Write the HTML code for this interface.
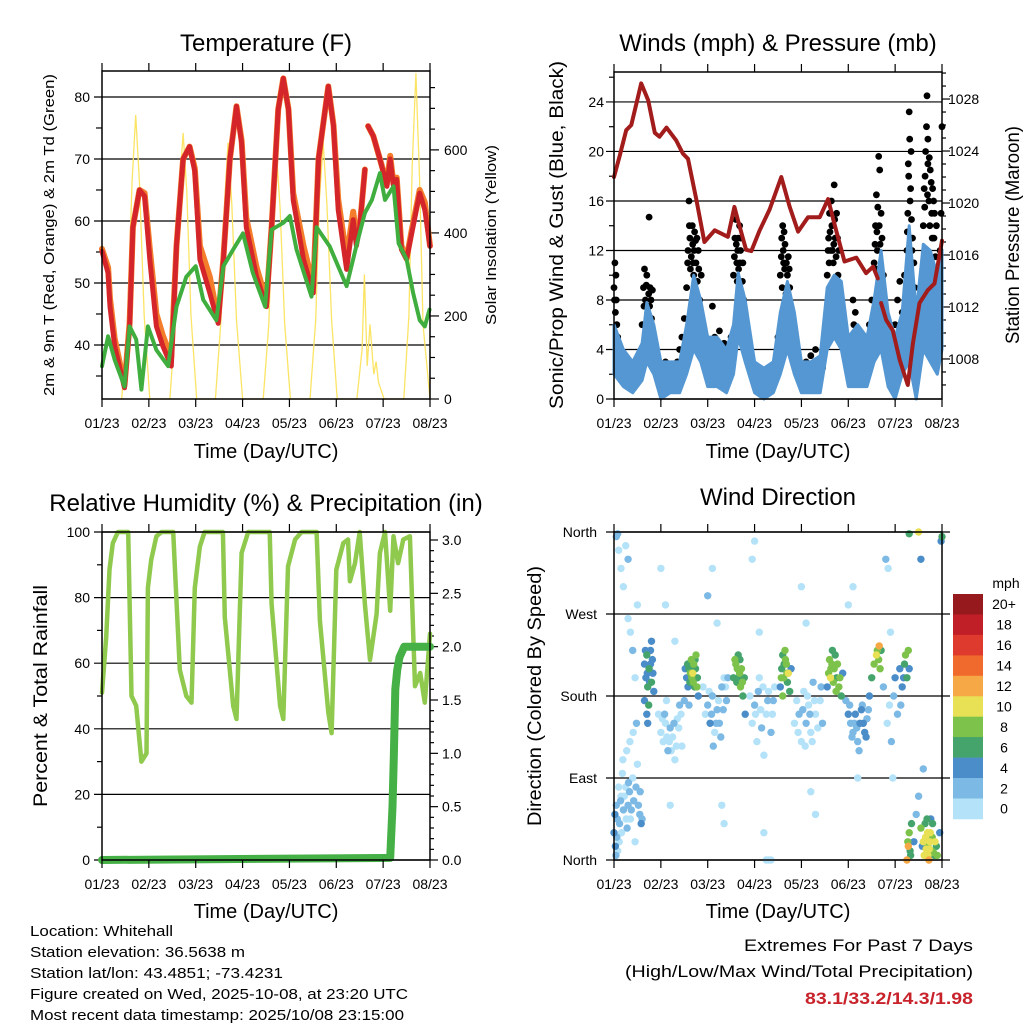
<!DOCTYPE html>
<html><head><meta charset="utf-8"><style>
html,body{margin:0;padding:0;background:#fff;}
svg{display:block;font-family:"Liberation Sans",sans-serif;}
</style></head><body>
<svg id="c" width="1024" height="1024" viewBox="0 0 1024 1024" xmlns="http://www.w3.org/2000/svg">
<rect width="1024" height="1024" fill="#fff"/>
<g id="g-temp"></g>
<g id="g-wind"></g>
<g id="g-rh"></g>
<g id="g-dir"></g>
<text x="266" y="51" font-size="24" text-anchor="middle">Temperature (F)</text>
<text x="778" y="51" font-size="24" text-anchor="middle">Winds (mph) &amp; Pressure (mb)</text>
<text x="266" y="511" font-size="24" text-anchor="middle">Relative Humidity (%) &amp; Precipitation (in)</text>
<text x="778" y="505" font-size="24" text-anchor="middle">Wind Direction</text>
<text x="266" y="458" font-size="20" text-anchor="middle">Time (Day/UTC)</text>
<text x="778" y="458" font-size="20" text-anchor="middle">Time (Day/UTC)</text>
<text x="266" y="918" font-size="20" text-anchor="middle">Time (Day/UTC)</text>
<text x="778" y="918" font-size="20" text-anchor="middle">Time (Day/UTC)</text>
<text transform="translate(54,235) rotate(-90)" font-size="15" text-anchor="middle" textLength="322" lengthAdjust="spacingAndGlyphs">2m &amp; 9m T (Red, Orange) &amp; 2m Td (Green)</text>
<text transform="translate(496,235) rotate(-90)" font-size="15" text-anchor="middle" textLength="180" lengthAdjust="spacingAndGlyphs">Solar Insolation (Yellow)</text>
<text transform="translate(563,235) rotate(-90)" font-size="19" text-anchor="middle" textLength="348" lengthAdjust="spacingAndGlyphs">Sonic/Prop Wind &amp; Gust (Blue, Black)</text>
<text transform="translate(1019,235) rotate(-90)" font-size="19" text-anchor="middle" textLength="218" lengthAdjust="spacingAndGlyphs">Station Pressure (Maroon)</text>
<text transform="translate(47,696) rotate(-90)" font-size="19" text-anchor="middle" textLength="222" lengthAdjust="spacingAndGlyphs">Percent &amp; Total Rainfall</text>
<text transform="translate(541,696) rotate(-90)" font-size="19" text-anchor="middle" textLength="260" lengthAdjust="spacingAndGlyphs">Direction (Colored By Speed)</text>
<g font-size="15">
<text x="30" y="936" textLength="143" lengthAdjust="spacingAndGlyphs">Location: Whitehall</text>
<text x="30" y="957" textLength="215" lengthAdjust="spacingAndGlyphs">Station elevation: 36.5638 m</text>
<text x="30" y="978" textLength="253" lengthAdjust="spacingAndGlyphs">Station lat/lon: 43.4851; -73.4231</text>
<text x="30" y="999" textLength="378" lengthAdjust="spacingAndGlyphs">Figure created on Wed, 2025-10-08, at 23:20 UTC</text>
<text x="30" y="1020" textLength="374" lengthAdjust="spacingAndGlyphs">Most recent data timestamp: 2025/10/08 23:15:00</text>
</g>
<g font-size="17" text-anchor="end">
<text x="973" y="951" textLength="229" lengthAdjust="spacingAndGlyphs">Extremes For Past 7 Days</text>
<text x="973" y="977" textLength="348" lengthAdjust="spacingAndGlyphs">(High/Low/Max Wind/Total Precipitation)</text>
<text x="973" y="1004" font-weight="bold" fill="#c8222b" textLength="168" lengthAdjust="spacingAndGlyphs">83.1/33.2/14.3/1.98</text>
</g>
</svg>
<script>
// ---------- data ----------
const xTickLabels = ["01/23","02/23","03/23","04/23","05/23","06/23","07/23","08/23"];
const tempTicks = [40,50,60,70,80];
const solarTicks = [0,200,400,600];
const windTicks = [0,4,8,12,16,20,24];
const pressTicks = [1008,1012,1016,1020,1024,1028];
const rhTicks = [0,20,40,60,80,100];
const precipTicks = ["0.0","0.5","1.0","1.5","2.0","2.5","3.0"];
const dirTickLabels = ["North","East","South","West","North"];
const speedBins = ["0","2","4","6","8","10","12","14","16","18","20+"];
const speedColors = ["#b4e2f8","#7cb9e4","#4a8dc8","#45a46c","#7dc24b","#e8e055","#f6a847","#ef6a2c","#df3a2e","#c11f28","#961a1d"];

const tTemp = [0,0.13,0.17,0.27,0.48,0.59,0.66,0.8,0.91,1.02,1.16,1.3,1.48,1.59,1.73,1.87,1.98,2.09,2.3,2.48,2.59,2.73,2.87,2.98,3.08,3.3,3.51,3.62,3.76,3.87,3.98,4.08,4.3,4.51,4.62,4.83,4.94,5.04,5.22,5.36,5.43,5.5,5.61,5.64,5.68,5.79,5.93,6.08,6.15,6.22,6.29,6.39,6.5,6.61,6.78,6.89,7.0];
const tempRed = [55.1,51.6,46.2,39.8,33.1,43,59,65,64,53.8,43,39.8,36.6,56,70,72,68,53.8,48.4,43.5,53.8,70,78.5,72.6,59,51,46.2,59,78,83,78,63.4,53.8,48.4,70,81.7,75.3,61.8,52.2,60.2,56,59,68.3,null,75.3,73.7,70,65.6,70,65.6,66.7,55.4,53.8,58,64.5,61.8,55.9];
const tempOrange = [55.5,52.5,47.5,41,33.5,43.5,59,65,64.5,55.5,45,41.5,38,56,70,72,68.5,56,51,44,54,70,78.5,73,60.5,52.5,47,59,78,83,78,64.5,56,49.5,70,81.7,75.5,63.5,54,61.5,57.5,59,68.3,null,75.3,73.7,70,66,70.5,66,67,56,54,58.5,65,63,56];
const tDew = [0,0.13,0.27,0.48,0.59,0.73,0.84,0.98,1.16,1.41,1.59,1.8,2.0,2.16,2.44,2.59,2.8,3.01,3.22,3.48,3.62,3.87,4.01,4.15,4.47,4.58,4.86,5.22,5.43,5.61,5.76,5.93,6.04,6.22,6.33,6.5,6.64,6.78,6.89,6.99];
const dewGreen = [36.6,41.4,37.6,33.3,43,40.9,32.8,43,39.2,36.6,46.2,51,52.7,47.3,44,52.7,55.4,58,51.6,46.2,58.6,59.7,60.8,55.4,47.8,59,55.9,49.5,56,61.3,63.4,67.7,63.4,65.6,56.4,53.8,48.4,44,43,45.7];
const tSolar = [0.42,0.55,0.64,0.72,0.8,0.9,1.02,1.45,1.57,1.65,1.73,1.81,1.9,2.02,2.42,2.54,2.62,2.69,2.77,2.87,3.0,3.44,3.56,3.64,3.72,3.8,3.9,4.02,4.44,4.56,4.64,4.72,4.8,4.9,5.02,5.44,5.55,5.6,5.66,5.72,5.8,5.85,5.9,6.02,6.44,6.55,6.62,6.7,6.78,6.85,7.0];
const solar = [0,200,520,684,520,200,0,0,200,500,641,500,200,0,0,190,480,617,470,190,0,0,180,460,600,460,180,0,0,190,480,617,470,190,0,0,120,300,80,180,60,90,40,0,0,200,560,785,520,180,0];

const tWind = [0,0.2,0.4,0.6,0.7,0.85,1.0,1.2,1.4,1.55,1.7,1.85,2.0,2.2,2.4,2.55,2.65,2.8,3.0,3.2,3.4,3.55,3.7,3.85,4.0,4.2,4.4,4.55,4.7,4.85,5.0,5.2,5.4,5.55,5.7,5.85,6.0,6.15,6.3,6.45,6.6,6.75,6.9,7.0];
const windLow = [2,1,0.5,1.5,3,2,0,0.5,0.5,2,4,3,1,1,0.5,2,5,3,0.5,0,0.5,2,4,2,0.5,0.5,0.5,4,5,4,1,1,1,3,4,1,0,2,3,0,4,3,2,4];
const windHigh = [6,4,3,4.5,7.8,6,3,3,3,6,10,8,5,5,4,6,10.2,8,3,2.5,3,7,9.5,7,3,3,3.5,9,10,9.5,5,6,5,8,12,7,5,7,14,7,12.5,12,10,12];
const tPress = [0,0.12,0.26,0.37,0.58,0.73,0.87,0.97,1.12,1.33,1.47,1.58,1.76,1.93,2.15,2.43,2.57,2.68,2.82,2.93,3.11,3.32,3.57,3.75,3.93,4.14,4.39,4.57,4.74,4.92,5.17,5.38,5.53,5.63,5.66,5.70,5.81,5.95,6.10,6.27,6.38,6.52,6.70,6.84,7.0];
const pressure = [1022.0,1023.6,1025.6,1026.0,1029.2,1027.9,1025.4,1025.1,1025.8,1024.8,1023.8,1023.4,1020.2,1017.0,1017.9,1017.4,1019.7,1018.2,1016.4,1016.3,1017.9,1019.5,1022.0,1019.7,1017.8,1018.9,1018.9,1020.3,1017.9,1015.5,1015.8,1014.6,1015.1,1014.2,null,1012.3,1011.0,1010.2,1007.9,1006.0,1009.2,1012.3,1013.3,1013.8,1017.1];
const gusts = [[0.0,9],[0.02,11],[0.03,7],[0.05,8],[0.06,6],[0.08,5],[0.1,4.5],[0.12,4],[0.15,3.5],[0.18,3],[0.2,2.5],[0.22,2.8],[0.25,2],[0.28,2.5],[0.3,3],[0.33,2],[0.36,1.8],[0.4,2.5],[0.43,2],[0.46,3],[0.5,2.5],[0.55,3.5],[0.6,6],[0.63,9],[0.65,10.5],[0.67,8],[0.69,9.2],[0.72,7],[0.74,8.5],[0.75,14.7],[0.77,9],[0.8,6.5],[0.82,8.8],[0.85,5],[0.88,4],[0.9,3],[0.01,8],[0.04,10],[0.64,7.5],[0.7,10],[0.76,7.5],[0.79,8],
[0.95,2],[1.0,1.5],[1.05,2.2],[1.1,3],[1.15,2.5],[1.2,2],[1.25,1.5],[1.3,2.5],[1.35,3],[1.4,4],[1.45,5],[1.5,6.5],[1.55,9],[1.58,12],[1.6,16],[1.62,13],[1.65,11.5],[1.68,12.5],[1.7,10],[1.72,13.5],[1.75,11],[1.78,9.5],[1.8,12],[1.83,8],[1.86,10],[1.9,6],[1.95,3.5],[1.63,10.5],[1.67,14],[1.74,12.8],[1.57,11],[1.61,14],[1.69,11],[1.71,12],[1.77,13],[1.81,10.5],
[2.0,2],[2.05,3.5],[2.1,7.5],[2.12,4],[2.15,5],[2.2,2.5],[2.25,5.5],[2.3,3],[2.35,4.5],[2.4,1.5],[2.45,3],[2.5,5],[2.55,10],[2.58,13],[2.6,14.5],[2.62,11],[2.65,13],[2.67,9],[2.7,12],[2.72,8.5],[2.75,11],[2.8,7],[2.85,5],[2.9,3],[2.61,12.5],[2.63,9.5],[2.68,14],[2.57,11.5],[2.64,12],[2.66,10.5],[2.69,11],[2.71,13],[2.74,9.5],[2.77,8],
[2.95,2],[3.0,1.5],[3.05,2],[3.1,1],[3.15,2.2],[3.2,1.5],[3.25,2],[3.3,1],[3.35,2.5],[3.4,1.8],[3.45,3],[3.5,5],[3.55,10],[3.58,13],[3.6,14],[3.62,11],[3.65,12.5],[3.7,10],[3.72,11.5],[3.75,9],[3.8,7],[3.85,4],[3.9,2.5],[3.59,9],[3.63,13.5],[3.67,8.5],[3.57,11.5],[3.61,12],[3.64,10.5],[3.68,11],[3.74,10.5],
[3.95,2],[4.0,2.5],[4.05,1.5],[4.1,3],[4.15,2],[4.2,3.5],[4.25,2.5],[4.3,4],[4.35,3],[4.4,2],[4.45,2.5],[4.5,4],[4.55,10],[4.58,13],[4.6,15],[4.62,12],[4.65,14],[4.68,11],[4.7,17.3],[4.72,13],[4.75,15],[4.78,10],[4.8,12],[4.85,8],[4.9,5],[4.59,11],[4.64,16],[4.69,12.5],[4.57,12],[4.61,13.5],[4.66,12],[4.71,14.5],[4.74,11.5],[4.77,13],
[4.95,3],[5.0,4],[5.05,5],[5.1,8],[5.12,6],[5.15,7],[5.2,4],[5.25,3],[5.3,5],[5.35,3.5],[5.4,4],[5.45,6],[5.5,8],[5.55,11],[5.58,14],[5.6,16.5],[5.62,12],[5.65,19.6],[5.67,18.5],[5.7,15],[5.72,13],[5.75,10],[5.8,7],[5.85,5],[5.9,3],[5.57,12.5],[5.63,15.5],[5.59,10.5],[5.61,13.5],[5.66,14],[5.68,12.5],
[5.95,4],[6.0,6],[6.05,8],[6.1,9.5],[6.15,7],[6.2,10],[6.25,12],[6.27,15],[6.28,19],[6.3,23.2],[6.31,21],[6.33,17],[6.35,14.5],[6.37,13],[6.4,11],[6.42,9],[6.45,7],[6.5,5],[6.55,8],[6.6,14],[6.62,17],[6.65,20],[6.67,22],[6.68,24.5],[6.7,19],[6.72,16],[6.75,18.5],[6.78,15],[6.8,17],[6.83,13],[6.86,11.5],[6.9,10],[6.93,8],[6.96,12],[6.98,15],[7.0,22],[6.29,18],[6.32,16],[6.34,20],[6.64,18],[6.7,21],[6.74,14],[6.77,17.5],[6.82,16],[6.26,13.5],[6.36,12],[6.63,15.5],[6.69,16.5],[6.73,19.5],[6.79,13],[6.84,15],[6.88,14]];

const windDirs = [[0.0,30,5],[0.02,50,4],[0.03,15,4],[0.05,60,2],[0.08,10,1],[0.1,80,1],[0.12,40,2],[0.15,70,0],[0.18,95,1],[0.2,55,2],[0.25,80,1],[0.28,35,3],[0.3,60,3],[0.33,75,2],[0.35,45,1],[0.4,90,0],[0.45,20,1],[0.5,105,1],[0.55,50,3],[0.58,40,4],[0.06,25,3],[0.04,5,2],
[0.05,355,2],[0.1,340,1],[0.15,320,0],[0.2,300,1],[0.25,345,0],[0.3,265,0],[0.35,250,1],[0.4,230,2],[0.45,200,1],[0.5,280,0],[0.08,358,3],[0.3,330,2],
[0.14,65,2],[0.22,70,1],[0.26,45,1],[0.31,85,2],[0.37,55,3],[0.42,65,2],[0.47,80,2],[0.52,60,3],[0.56,75,2],[0.6,45,3],[0.16,30,1],[0.11,20,0],[0.07,45,3],[0.19,110,0],[0.27,120,1],[0.34,130,0],[0.41,140,1],[0.48,150,2],
[0.65,215,5],[0.68,200,4],[0.7,225,7],[0.72,190,6],[0.75,210,6],[0.78,230,5],[0.8,195,7],[0.82,220,5],[0.85,185,5],[0.7,160,5],[0.72,150,4],[0.65,175,4],[0.74,170,6],[0.8,240,4],[0.67,230,5],[0.71,205,5],[0.76,195,4],[0.83,205,4],[0.78,215,4],
[0.95,160,1],[1.0,140,0],[1.05,130,1],[1.1,150,0],[1.15,120,2],[1.2,145,2],[1.25,135,1],[1.3,110,0],[1.35,155,1],[1.4,170,2],[1.45,125,1],[1.0,320,1],[1.1,280,0],[1.2,60,1],[1.3,240,0],[1.08,160,2],[1.18,130,0],[1.03,155,0],[1.13,135,0],[1.22,120,1],[1.28,150,2],[1.33,125,1],[1.38,145,0],[1.43,160,1],[1.12,175,0],
[1.55,200,4],[1.58,190,5],[1.6,210,6],[1.62,195,7],[1.65,220,8],[1.68,205,10],[1.7,215,8],[1.72,190,7],[1.75,225,8],[1.78,200,6],[1.8,180,5],[1.6,170,3],[1.5,175,2],[1.52,210,4],[1.66,200,8],[1.74,210,7],[1.57,215,6],[1.63,205,8],[1.69,195,8],[1.73,220,7],[1.77,190,8],
[1.9,190,1],[2.0,170,2],[2.05,150,4],[2.1,180,2],[2.15,140,1],[2.2,165,2],[2.25,150,3],[2.3,190,2],[2.35,200,1],[2.4,175,2],[2.0,290,2],[2.1,320,0],[2.2,260,1],[2.3,60,0],[2.35,40,1],[2.12,125,3],[2.28,135,2],[1.95,160,1],[2.03,185,1],[2.08,160,2],[2.18,150,2],[2.23,175,1],[2.33,165,3],[2.38,190,1],[2.43,200,2],
[2.55,200,6],[2.6,215,8],[2.62,195,7],[2.65,225,7],[2.68,205,8],[2.7,190,9],[2.72,210,8],[2.75,180,7],[2.78,200,6],[2.8,160,4],[2.58,220,8],[2.66,200,7],[2.63,210,8],[2.69,220,6],[2.74,195,8],
[2.9,180,1],[2.95,150,0],[3.0,170,2],[3.05,130,1],[3.1,200,0],[3.15,145,2],[3.2,115,1],[3.25,160,1],[3.3,185,0],[3.35,140,2],[3.4,175,2],[2.95,330,0],[3.0,350,1],[3.1,250,1],[3.2,30,0],[3.25,0,0],[3.35,0,0],[3.3,0,0],[3.02,160,1],[3.08,185,2],[3.13,165,1],[3.18,190,0],[3.28,175,2],[3.38,160,1],[3.43,190,1],
[3.55,190,5],[3.58,210,6],[3.6,225,7],[3.62,200,8],[3.65,230,9],[3.68,215,8],[3.7,195,7],[3.72,205,10],[3.75,185,6],[3.78,210,5],[3.66,220,8],[3.6,180,8],[3.57,200,8],[3.63,215,7],[3.69,205,9],
[3.85,150,1],[3.9,175,0],[3.95,160,2],[4.0,130,1],[4.05,185,1],[4.1,150,2],[4.15,170,0],[4.2,140,1],[4.25,195,2],[4.3,160,0],[4.4,175,1],[4.45,150,2],[4.0,300,1],[4.1,260,0],[4.2,75,1],[4.3,50,0],[3.93,140,1],[4.03,165,2],[4.08,125,1],[4.13,180,1],[4.18,160,2],[4.23,130,0],[4.28,175,1],[4.35,145,0],[4.42,190,2],
[4.55,190,5],[4.58,205,8],[4.6,220,9],[4.62,200,10],[4.65,215,8],[4.68,195,8],[4.7,210,9],[4.72,225,7],[4.75,200,7],[4.8,190,9],[4.85,180,6],[4.88,205,5],[4.66,230,6],[4.74,185,8],[4.63,210,8],[4.77,215,8],[4.82,200,8],
[4.95,175,3],[5.0,160,4],[5.05,150,3],[5.1,140,2],[5.15,160,4],[5.2,130,3],[5.25,150,5],[5.3,170,3],[5.35,140,5],[5.4,155,2],[5.45,180,4],[5.5,200,6],[5.55,215,9],[5.6,225,10],[5.65,220,8],[5.68,210,9],[5.7,230,6],[5.0,280,1],[5.1,300,0],[5.2,90,1],[5.32,150,4],[5.28,165,5],[5.03,170,2],[5.08,135,2],[5.13,150,3],[5.18,145,2],[5.23,120,3],[5.38,135,4],[5.43,165,3],[5.62,230,9],[5.66,235,12],
[5.75,190,2],[5.8,330,2],[5.85,320,1],[5.9,250,0],[5.95,90,1],[6.0,200,4],[6.05,160,2],[6.1,210,5],[6.15,190,4],[6.2,215,6],[6.22,225,8],[6.25,200,7],[6.28,230,8],[6.3,210,5],[5.83,150,1],[5.88,170,1],[5.92,130,2],[5.97,180,2],[6.12,170,3],[6.18,200,4],
[6.25,0,13],[6.28,15,12],[6.3,30,9],[6.32,10,7],[6.35,40,6],[6.4,20,5],[6.45,50,3],[6.5,70,2],[6.55,35,8],[6.6,20,10],[6.62,5,11],[6.65,25,10],[6.68,45,7],[6.7,15,9],[6.72,0,12],[6.75,30,10],[6.78,10,8],[6.8,40,6],[6.85,20,10],[6.9,5,8],[6.95,30,4],[6.98,350,4],[7.0,355,7],[6.6,100,2],[6.5,360,10],[6.3,358,7],[6.55,330,4],[6.66,12,10],[6.7,5,10],[6.74,20,11],[6.82,8,9],[6.76,45,5],[6.58,15,5],[6.64,40,6],[6.69,30,11],[6.73,12,10],[6.79,25,9],[6.84,5,7],[6.88,15,6],[6.27,20,9],[6.33,5,6]];

const tRH = [0,0.09,0.16,0.23,0.34,0.56,0.63,0.73,0.84,0.95,0.98,1.05,1.16,1.27,1.52,1.66,1.8,1.91,1.98,2.09,2.19,2.58,2.62,2.8,2.87,2.98,3.12,3.58,3.62,3.8,3.87,3.97,4.12,4.26,4.58,4.65,4.83,4.9,5.0,5.15,5.25,5.29,5.4,5.5,5.61,5.72,5.86,5.93,6.04,6.15,6.22,6.32,6.43,6.57,6.68,6.79,6.89,7.0];
const rh = [51,68,88.5,96.6,100,100,50,47,30,32.5,83,91.5,98.7,100,100,58,50,48,83,95.6,100,100,74,47,43,93.6,100,100,78,47,43,89.5,97.7,100,100,73,45,38.7,88.5,96.6,97.7,85,90.5,100,78,61,75,93.6,100,76,98.7,90.5,97.7,98.7,53,57,48,69];
const tPrecip = [0,6.15,6.2,6.23,6.26,6.3,6.35,6.45,7.0];
const precip = [0,0.02,0.5,1.0,1.6,1.78,1.9,2.0,2.0];

// ---------- helpers ----------
const NS = "http://www.w3.org/2000/svg";
function mk(tag, attrs, parent){ const e=document.createElementNS(NS,tag); for(const k in attrs) e.setAttribute(k,attrs[k]); parent.appendChild(e); return e; }
function panel(x0,x1,y0,y1){ return {x0,x1,y0,y1, sx:t=>x0+(x1-x0)*t/7, sy:(v,a,b)=>y1-(y1-y0)*(v-a)/(b-a)}; }
function pathFrom(ts, vs, fx, fy){ let d="", pen=false; for(let i=0;i<ts.length;i++){ if(vs[i]===null||vs[i]===undefined){pen=false;continue;} d+=(pen?"L":"M")+fx(ts[i]).toFixed(1)+","+fy(vs[i]).toFixed(1); pen=true; } return d; }
function frame(g,P){
  for(let i=0;i<8;i++){ const x=P.sx(i);
    let tk=mk("line",{x1:x,x2:x,y1:P.y1,y2:P.y1+8,stroke:"#000","stroke-width":1.2},g);
    
    
    let tk2=mk("line",{x1:x,x2:x,y1:P.y0,y2:P.y0-8,stroke:"#000","stroke-width":1.2},g);
    
    
    let lb=mk("text",{x:x,y:P.y1+29,"font-size":14,"text-anchor":"middle"},g); lb.textContent=xTickLabels[i];
    
    
  }
  const r=mk("rect",{x:P.x0,y:P.y0,width:P.x1-P.x0,height:P.y1-P.y0,fill:"none",stroke:"#000","stroke-width":1.5},g);
  
  
}
function hgrid(g,P,y,x0,x1){ const l=mk("line",{x1:x0,x2:x1,y1:y,y2:y,stroke:"#000","stroke-width":1.2},g);
  
   }
function ylab(g,x,y,txt,anchor){ const t=mk("text",{x:x,y:y+5,"font-size":14,"text-anchor":anchor},g); t.textContent=txt;
  
   }
function rtick(g,x,y,len){ const l=mk("line",{x1:x,x2:x+len,y1:y,y2:y,stroke:"#000","stroke-width":1.2},g);
  
   }

// ---------- temperature ----------
(function(){
  const g=document.getElementById("g-temp");
  const P=panel(102,430,71,399);
  const TMIN=31.29,TMAX=84.19,SMAX=790;
  tempTicks.forEach(v=>{ const y=P.sy(v,TMIN,TMAX); hgrid(g,P,y,P.x0-8,P.x1); ylab(g,P.x0-12,y,String(v),"end"); });
  for(let v=35;v<=80;v+=10){ rtick(g,P.x0-6,P.sy(v,TMIN,TMAX),6); }
  for(let v=0;v<=750;v+=50){ rtick(g,P.x1,P.sy(v,0,SMAX),v%200===0?9:5); }
  solarTicks.forEach(v=>ylab(g,P.x1+14,P.sy(v,0,SMAX),String(v),"start"));
  const fx=P.sx;
  let s=mk("path",{d:pathFrom(tSolar,solar,fx,v=>P.sy(v,0,SMAX)),fill:"none",stroke:"#fbe465","stroke-width":1.3},g);
  
  
  let o=mk("path",{d:pathFrom(tTemp,tempOrange,fx,v=>P.sy(v,TMIN,TMAX)),fill:"none",stroke:"#f47d2c","stroke-width":6,"stroke-linejoin":"round","stroke-linecap":"round"},g);
  
  
  let r=mk("path",{d:pathFrom(tTemp,tempRed,fx,v=>P.sy(v,TMIN,TMAX)),fill:"none",stroke:"#d4262a","stroke-width":5,"stroke-linejoin":"round","stroke-linecap":"round"},g);
  
  
  let d=mk("path",{d:pathFrom(tDew,dewGreen,fx,v=>P.sy(v,TMIN,TMAX)),fill:"none",stroke:"#3fae3f","stroke-width":4,"stroke-linejoin":"round","stroke-linecap":"round"},g);
  
  
  frame(g,P);
})();

// ---------- winds ----------
(function(){
  const g=document.getElementById("g-wind");
  const P=panel(614,942,72,399);
  const WMAX=26.42,PMIN=1004.92,PMAX=1030.08;
  windTicks.forEach(v=>{ const y=P.sy(v,0,WMAX); hgrid(g,P,y,P.x0-8,P.x1); ylab(g,P.x0-10,y,String(v),"end"); });
  for(let v=2;v<=26;v+=4) rtick(g,P.x0-5,P.sy(v,0,WMAX),5);
  for(let v=1006;v<=1030;v+=1){ if(v>PMAX) break; rtick(g,P.x1,P.sy(v,PMIN,PMAX),v%4===0?8:4); }
  pressTicks.forEach(v=>ylab(g,P.x1+6,P.sy(v,PMIN,PMAX),String(v),"start"));
  const fy=v=>P.sy(v,0,WMAX);
  let d="M"; for(let i=0;i<tWind.length;i++) d+=(i?"L":"")+P.sx(tWind[i]).toFixed(1)+","+fy(windHigh[i]).toFixed(1);
  for(let i=tWind.length-1;i>=0;i--) d+="L"+P.sx(tWind[i]).toFixed(1)+","+fy(windLow[i]).toFixed(1);
  d+="Z";
  const gg=mk("g",{},g);
  
  
  gusts.forEach(p=>{ const c=mk("circle",{cx:P.sx(p[0]).toFixed(1),cy:fy(p[1]).toFixed(1),r:3.4,fill:"#000"},gg);
    
     });
  let b=mk("path",{d:d,fill:"#5497d2",stroke:"#5497d2","stroke-width":3,"stroke-linejoin":"round"},g);
  
  
  let p=mk("path",{d:pathFrom(tPress,pressure,P.sx,v=>P.sy(v,PMIN,PMAX)),fill:"none",stroke:"#a21c1c","stroke-width":4,"stroke-linejoin":"round","stroke-linecap":"round"},g);
  
  
  frame(g,P);
})();

// ---------- humidity ----------
(function(){
  const g=document.getElementById("g-rh");
  const P=panel(102,430,532,860);
  const PRMAX=3.075;
  rhTicks.forEach(v=>{ const y=P.sy(v,0,100); hgrid(g,P,y,P.x0-8,P.x1); ylab(g,P.x0-12,y,String(v),"end"); });
  for(let v=10;v<=90;v+=20) rtick(g,P.x0-5,P.sy(v,0,100),5);
  for(let v=0;v<=30;v++){ rtick(g,P.x1,P.sy(v/10,0,PRMAX),v%5===0?8:4); }
  precipTicks.forEach((s,i)=>ylab(g,P.x1+12,P.sy(i*0.5,0,PRMAX),s,"start"));
  let r=mk("path",{d:pathFrom(tRH,rh,P.sx,v=>P.sy(v,0,100)),fill:"none",stroke:"#8fc94d","stroke-width":4.5,"stroke-linejoin":"round","stroke-linecap":"round"},g);
  
  
  let p=mk("path",{d:pathFrom(tPrecip,precip,P.sx,v=>P.sy(v,0,PRMAX)),fill:"none",stroke:"#45b046","stroke-width":8,"stroke-linejoin":"round","stroke-linecap":"round"},g);
  
  
  frame(g,P);
})();

// ---------- wind direction ----------
(function(){
  const g=document.getElementById("g-dir");
  const P=panel(614,942,532,860);
  dirTickLabels.forEach((s,i)=>{ const y=P.sy(i*90,0,360); hgrid(g,P,y,P.x0-8,P.x1+8); ylab(g,P.x0-17,y,s,"end"); });
  const gd=mk("g",{},g);
  
  
  const order=windDirs.slice().sort((a,b)=>a[2]-b[2]);
  order.forEach(p=>{ const bin=Math.min(10,Math.floor(p[2]/2));
    const c=mk("circle",{cx:P.sx(p[0]).toFixed(1),cy:P.sy(p[1],0,360).toFixed(1),r:3.7,fill:speedColors[bin]},gd);
    
     });
  frame(g,P);
  const cb=mk("g",{},g);
  
  
  const top=594,h=20.45;
  for(let i=0;i<11;i++){ const k=10-i; const y=top+i*h;
    const r=mk("rect",{x:953,y:y.toFixed(1),width:30,height:(h+0.3).toFixed(1),fill:speedColors[k]},cb);
    
    
    const t=mk("text",{x:1004,y:(y+h/2+5).toFixed(1),"font-size":14,"text-anchor":"middle"},cb); t.textContent=speedBins[k];
    
     }
  const u=mk("text",{x:1006,y:588,"font-size":14,"text-anchor":"middle"},cb); u.textContent="mph";
  
  
})();
</script>
</body></html>
